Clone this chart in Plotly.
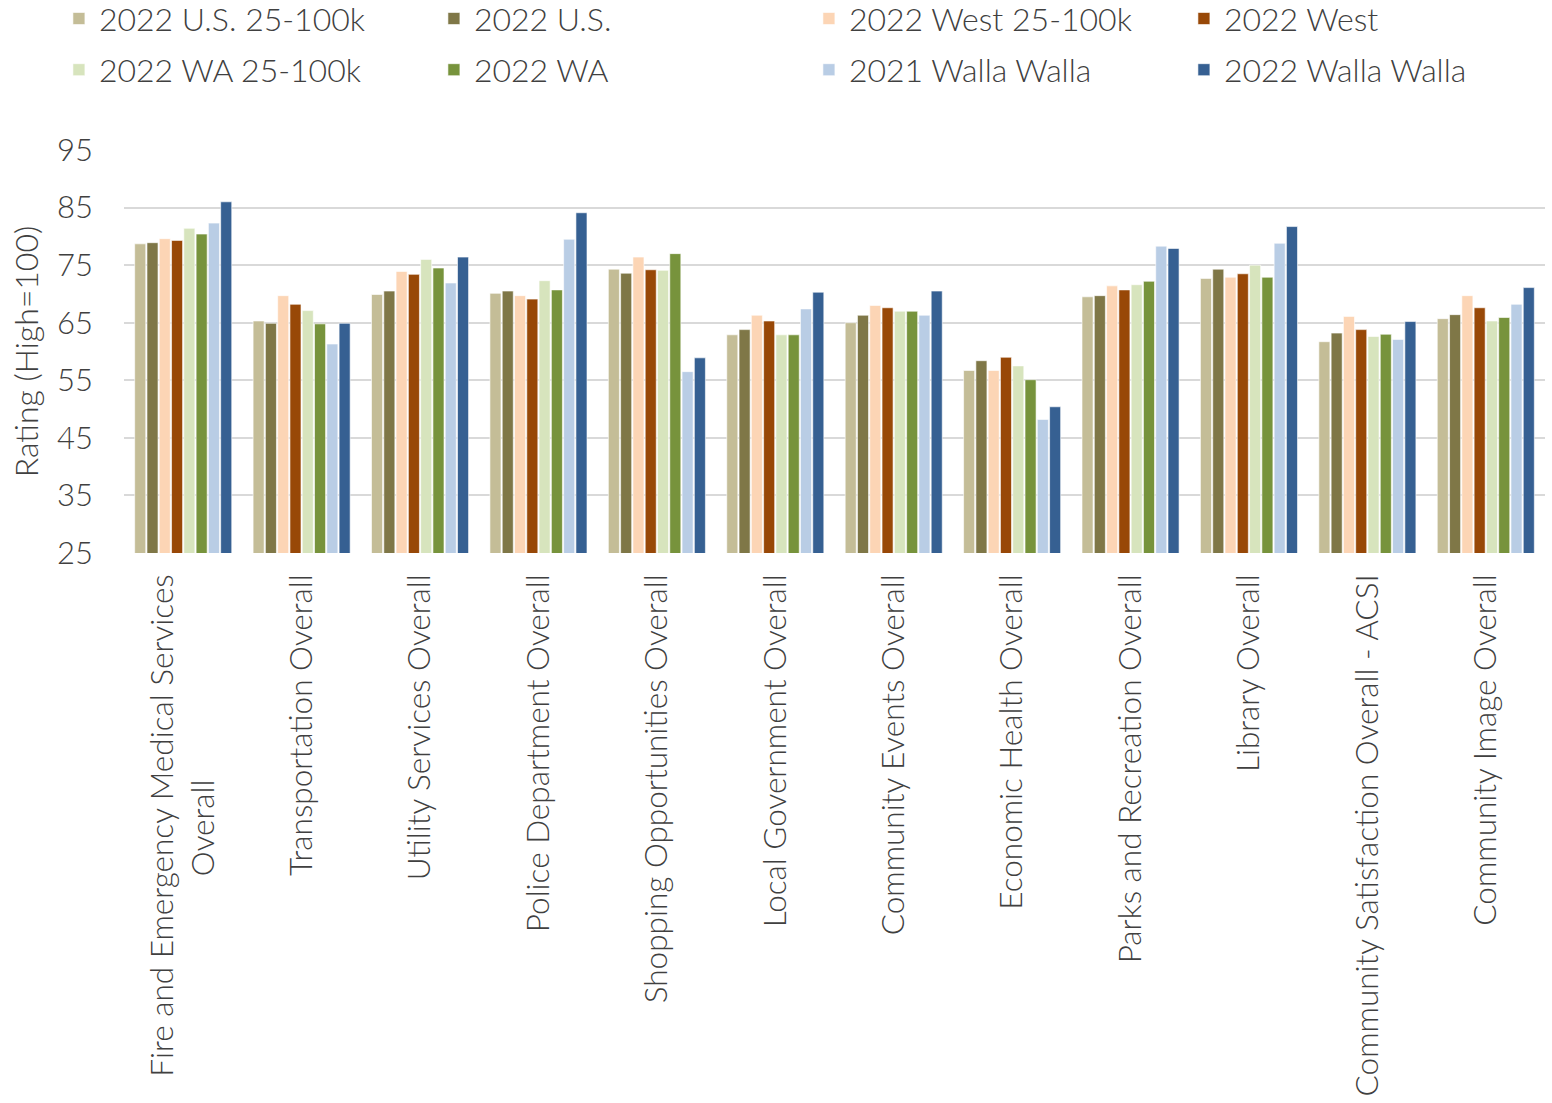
import plotly.graph_objects as go

NBSP = "\u00a0"

categories = [
    "Fire and Emergency Medical Services<br>Overall" + NBSP * 24,
    "Transportation Overall",
    "Utility Services Overall",
    "Police Department Overall",
    "Shopping Opportunities Overall",
    "Local Government Overall",
    "Community Events Overall",
    "Economic Health Overall",
    "Parks and Recreation Overall",
    "Library Overall",
    "Community Satisfaction Overall - ACSI",
    "Community Image Overall",
]

us_25_100k = [78.7, 65.3, 69.9, 70.1, 74.3, 62.9, 65.0, 56.7, 69.5, 72.7, 61.7, 65.7]
us_all = [78.9, 64.9, 70.5, 70.5, 73.6, 63.8, 66.3, 58.4, 69.7, 74.3, 63.2, 66.4]
west_25_100k = [79.6, 69.7, 73.9, 69.7, 76.4, 66.3, 68.0, 56.7, 71.4, 72.9, 66.1, 69.7]
west_all = [79.3, 68.2, 73.4, 69.1, 74.2, 65.3, 67.6, 59.0, 70.7, 73.5, 63.8, 67.6]
wa_25_100k = [81.4, 67.1, 76.0, 72.3, 74.1, 62.9, 67.0, 57.5, 71.6, 75.0, 62.6, 65.3]
wa_all = [80.4, 64.8, 74.5, 70.7, 77.0, 62.9, 67.0, 55.1, 72.2, 72.9, 63.0, 65.9]
walla_2021 = [82.3, 61.3, 71.9, 79.5, 56.5, 67.4, 66.3, 48.2, 78.3, 78.8, 62.1, 68.2]
walla_2022 = [86.0, 64.9, 76.4, 84.1, 58.9, 70.3, 70.5, 50.4, 77.9, 81.7, 65.2, 71.1]

# (name, values, colour, legend row)
series = [
    ("2022 U.S. 25-100k", us_25_100k, "#C4BD97", "legend"),
    ("2022 U.S.", us_all, "#7F7747", "legend"),
    ("2022 West 25-100k", west_25_100k, "#FCD5B5", "legend"),
    ("2022 West", west_all, "#984807", "legend"),
    ("2022 WA 25-100k", wa_25_100k, "#D7E4BD", "legend2"),
    ("2022 WA", wa_all, "#77933C", "legend2"),
    ("2021 Walla Walla", walla_2021, "#B9CDE5", "legend2"),
    ("2022 Walla Walla", walla_2022, "#366092", "legend2"),
]

y_ticks = [25, 35, 45, 55, 65, 75, 85, 95]

FONT = "Lato, 'Open Sans', sans-serif"
TEXT = "#404040"
SIZE = 32

fig = go.Figure()
for name, vals, color, leg in series:
    fig.add_trace(go.Bar(
        name=name, x=categories, y=vals, legend=leg,
        marker=dict(color=color, line=dict(color="rgba(255,255,255,0.6)", width=1)),
    ))

legend_common = dict(
    orientation="h", x=-0.0458, xanchor="left", yanchor="top",
    entrywidth=330, entrywidthmode="pixels",
    font=dict(family=FONT, size=SIZE, color=TEXT, weight=300),
    itemclick=False, bgcolor="rgba(0,0,0,0)",
)

fig.update_layout(
    width=1552, height=1103,
    margin=dict(l=124, r=7, t=150, b=550, autoexpand=False),
    paper_bgcolor="white", plot_bgcolor="white",
    barmode="group", bargap=0.17, bargroupgap=0.1,
    font=dict(family=FONT, size=SIZE, color=TEXT, weight=300),
    legend=dict(legend_common, y=1.394),
    legend2=dict(legend_common, y=1.267),
    showlegend=True,
)

fig.update_yaxes(
    range=[25, 95], tickvals=y_ticks, showgrid=True,
    gridcolor="#D9D9D9", gridwidth=2, zeroline=False,
    tickfont=dict(family=FONT, size=31, color=TEXT, weight=300),
    ticklabelstandoff=30, automargin=False,
    title=dict(text="Rating (High=100)", font=dict(family=FONT, size=SIZE, color=TEXT, weight=300), standoff=8),
)
fig.update_xaxes(
    tickangle=-90, showline=False, automargin=False,
    tickfont=dict(family=FONT, size=31.5, color=TEXT, weight=300),
    ticklabelstandoff=14,
)

fig.write_html("out.html")
